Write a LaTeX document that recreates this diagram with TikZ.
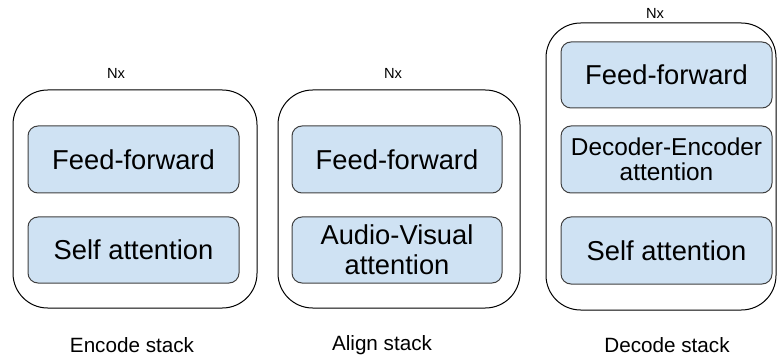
\documentclass[tikz,border=0pt]{standalone}
\usepackage{fontspec}
\setmainfont{Liberation Sans}
\definecolor{blockfill}{HTML}{CFE2F3}
\definecolor{blockline}{HTML}{404040}
\begin{document}
\begin{tikzpicture}[x=0.75pt,y=-0.75pt,
  stackbox/.style={draw=black, line width=0.75pt, rounded corners=26pt, inner sep=0pt},
  layerbox/.style={draw=blockline, fill=blockfill, line width=0.75pt, rounded corners=7.5pt,
    inner sep=0pt, align=center, font=\fontsize{20.5}{22.5}\selectfont},
  smalllayer/.style={layerbox, font=\fontsize{18.3}{19}\selectfont},
  repeatlabel/.style={font=\fontsize{11}{13}\selectfont},
  stacklabel/.style={font=\fontsize{15.5}{18}\selectfont}]
\useasboundingbox (0,0) rectangle (777,363);

% encoder stack
\node[stackbox, minimum width=183pt, minimum height=163.5pt] (enc) at (135,199) {};
\node[layerbox, minimum width=158.25pt, minimum height=50.25pt] (encff) at (133.5,159.5) {Feed-forward};
\node[layerbox, minimum width=158.25pt, minimum height=49.5pt] (encsa) at (133.5,250) {Self attention};
\node[repeatlabel] (encn) at (116,73) {Nx};
\node[stacklabel] (encl) at (132,345) {Encode stack};

% alignment stack
\node[stackbox, minimum width=181.5pt, minimum height=163.5pt] (ali) at (399,199) {};
\node[layerbox, minimum width=157.5pt, minimum height=50.25pt] (aliff) at (397,159.5) {Feed-forward};
\node[layerbox, minimum width=157.5pt, minimum height=49.5pt] (aliav) at (397,250) {Audio-Visual\\attention};
\node[repeatlabel] (alin) at (393,73) {Nx};
\node[stacklabel] (alil) at (382,345) {Align stack};

% decoder stack
\node[stackbox, minimum width=172.5pt, minimum height=215.25pt] (dec) at (661,166.5) {};
\node[layerbox, minimum width=158.25pt, minimum height=49.5pt] (decff) at (666.5,75) {Feed-forward};
\node[smalllayer, minimum width=158.25pt, minimum height=50.25pt] (decde) at (666.5,159.5) {Decoder-Encoder\\attention};
\node[layerbox, minimum width=158.25pt, minimum height=50.25pt] (decsa) at (666.5,250.5) {Self attention};
\node[repeatlabel] (decn) at (655,13) {Nx};
\node[stacklabel] (decl) at (667,345) {Decode stack};
\end{tikzpicture}
\end{document}
